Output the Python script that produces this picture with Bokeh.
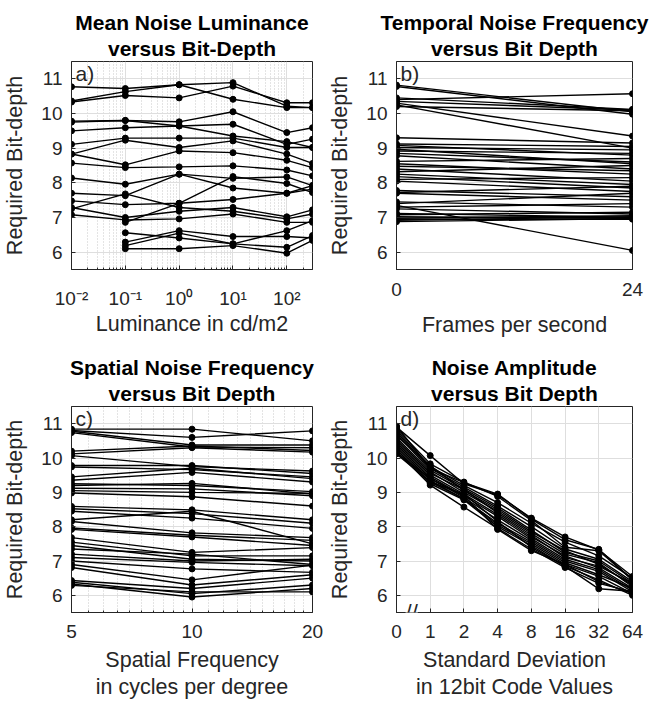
from bokeh.plotting import figure
from bokeh.models import Range1d, FixedTicker, Title, Label
from bokeh.layouts import row, column
from bokeh.embed import file_html
from bokeh.resources import INLINE

NaN = float("nan")

# ---------------- data ----------------
y_ticks = [6, 7, 8, 9, 10, 11]

# a) luminance (cd/m2) vs required bit depth
lum_x = [0.01, 0.1, 1, 10, 100, 300]
lum_ticks = [0.01, 0.1, 1, 10, 100]
lum_tick_labels = ["10⁻²", "10⁻¹", "10⁰", "10¹", "10²"]
lum_bits = [
    [10.77, 10.72, 10.83, 10.89, 10.21, 10.17],
    [10.36, 10.63, 10.83, 10.41, 10.17, 10.17],
    [10.33, 10.52, 10.45, 10.79, 10.31, 10.31],
    [9.78, 9.80, 9.76, 10.05, 9.45, 9.59],
    [9.75, 9.80, 9.64, 9.69, 9.11, 9.26],
    [9.50, 9.59, 9.64, 9.35, 9.19, 9.02],
    [9.11, 9.29, 9.29, 9.29, 9.02, 9.02],
    [8.83, 9.23, 9.02, 9.21, 8.83, 8.56],
    [8.83, 8.52, 8.92, 8.87, 8.65, 8.44],
    [8.57, 8.44, 8.46, 8.49, 8.37, 8.20],
    [8.14, 7.96, 8.25, 8.13, 8.17, 7.92],
    [7.70, 7.63, 8.25, 7.85, 7.70, 7.82],
    [7.48, 7.37, 7.41, 7.52, 7.70, 7.92],
    [7.29, 7.00, 7.18, 7.29, 7.02, 7.22],
    [7.25, 7.68, 7.29, 7.18, 6.96, 7.10],
    [7.08, 6.93, 6.96, 7.10, 6.86, 6.86],
    [NaN, 6.86, 7.41, 8.18, 7.98, 7.72],
    [NaN, 6.56, 6.41, 6.24, 6.62, 6.91],
    [NaN, 6.29, 6.62, 6.45, 6.45, 6.41],
    [NaN, 6.19, 6.55, 6.24, 6.14, 6.48],
    [NaN, 6.10, 6.10, 6.19, 5.97, 6.34],
]

# b) temporal frequency (fps) vs required bit depth
fps_x = [0, 24]
fps_ticks = [0, 24]
fps_bits = [
    [10.82, 10.05], [10.78, 9.98], [10.45, 10.12], [10.40, 10.57], [10.35, 10.10],
    [10.30, 9.35], [10.25, 9.00], [10.20, 10.08], [9.30, 9.15], [9.12, 9.05],
    [9.08, 8.80], [9.02, 8.95], [8.97, 8.55], [8.92, 8.85], [8.85, 8.60],
    [8.78, 8.40], [8.62, 8.70], [8.55, 8.25], [8.48, 8.35], [8.40, 8.05],
    [8.32, 8.50], [8.25, 7.95], [8.18, 7.85], [8.10, 8.15], [8.05, 7.75],
    [7.78, 7.60], [7.72, 7.90], [7.70, 7.50], [7.45, 7.30], [7.40, 7.70],
    [7.35, 6.05], [7.30, 7.40], [7.25, 7.10], [7.12, 7.00], [7.08, 7.15],
    [7.02, 6.98], [6.98, 7.05], [6.95, 6.95], [6.92, 7.02], [6.88, 6.97],
]

# c) spatial frequency (cpd) vs required bit depth
sf_x = [5, 10, 20]
sf_ticks = [5, 10, 20]
sf_minor = [5.5, 6, 6.5, 7, 7.5, 8, 8.5, 9, 9.5, 11, 12, 13, 14, 15, 16, 17, 18, 19]
sf_bits = [
    [10.84, 10.84, 10.50], [10.80, 10.60, 10.79], [10.78, 10.38, 10.38],
    [10.74, 10.32, 10.30], [10.20, 10.35, 10.22], [10.12, 10.30, 10.17],
    [10.07, 9.75, 9.62], [9.78, 9.78, 9.55], [9.74, 9.66, 9.45],
    [9.45, 9.70, 9.40], [9.35, 9.58, 9.30], [9.25, 9.20, 9.02],
    [9.20, 9.26, 8.95], [9.12, 9.10, 8.90], [9.05, 9.00, 8.97],
    [8.98, 8.87, 8.60], [8.59, 8.49, 8.20], [8.52, 8.38, 8.10],
    [8.45, 8.25, 7.95], [8.20, 8.45, 7.50], [8.15, 7.82, 7.68],
    [7.96, 7.75, 7.60], [7.92, 7.70, 7.45], [7.68, 7.25, 7.39],
    [7.55, 7.15, 7.15], [7.45, 7.05, 7.00], [7.35, 7.20, 6.90],
    [7.20, 7.00, 7.05], [7.10, 6.96, 6.86], [7.00, 6.77, 6.67],
    [6.90, 6.45, 6.88], [6.81, 6.30, 6.60], [6.43, 6.20, 6.50],
    [6.38, 6.05, 6.30], [6.33, 5.95, 6.20], [6.29, 6.10, 6.10],
]

# d) noise amplitude (std dev in 12bit code values) vs required bit depth
sd_labels = ["0", "1", "2", "4", "8", "16", "32", "64"]
sd_bits = [
    [10.90, 10.07, 9.25, 8.92, 8.25, 7.70, 7.32, 6.55],
    [10.85, 9.83, 9.30, 8.88, 8.18, 7.40, 7.30, 6.45],
    [10.80, 9.75, 9.20, 8.70, 8.10, 7.55, 7.15, 6.50],
    [10.75, 9.70, 9.15, 8.60, 8.00, 7.35, 7.05, 6.40],
    [10.70, 9.65, 9.10, 8.55, 7.90, 7.25, 7.00, 6.35],
    [10.65, 9.78, 9.05, 8.50, 7.85, 7.30, 6.90, 6.30],
    [10.60, 9.60, 9.00, 8.45, 7.80, 7.20, 6.95, 6.25],
    [10.55, 9.55, 9.08, 8.40, 7.75, 7.10, 6.85, 6.35],
    [10.50, 9.50, 8.95, 8.35, 7.70, 7.15, 6.80, 6.20],
    [10.45, 9.45, 8.90, 8.30, 7.65, 7.05, 6.75, 6.15],
    [10.40, 9.40, 8.85, 8.20, 7.60, 7.00, 6.70, 6.10],
    [10.35, 9.35, 8.80, 8.10, 7.55, 6.95, 6.60, 6.20],
    [10.30, 9.30, 8.82, 8.05, 7.50, 6.90, 6.55, 6.05],
    [10.25, 9.25, 8.78, 8.00, 7.45, 6.85, 6.45, 6.00],
    [10.20, 9.21, 8.57, 7.95, 7.35, 6.81, 6.35, 6.10],
    [10.15, 9.40, 8.90, 7.92, 7.30, 6.90, 6.40, 6.05],
    [10.12, 9.30, 8.95, 8.15, 7.40, 6.85, 6.19, 6.12],
    [10.93, 9.70, 9.28, 8.95, 8.22, 7.62, 7.34, 6.45],
]

Y_MIN, Y_MAX = 5.5, 11.5

# ---------------- styling ----------------
FONT = "Liberation Sans"
TXT = "#262626"
GRID = "#dedede"


def make_fig(width, height, bl, br, bt, bb, x_range, x_axis_type, title1, title2):
    p = figure(width=width, height=height, x_range=x_range,
               y_range=Range1d(Y_MIN, Y_MAX), x_axis_type=x_axis_type,
               output_backend="svg", toolbar_location=None,
               min_border_left=bl, min_border_right=br,
               min_border_top=bt, min_border_bottom=bb)
    # outer title line
    p.title.text = title1
    p.title.align = "center"
    p.title.text_font = FONT
    p.title.text_font_size = "21px"
    p.title.text_font_style = "bold"
    p.title.text_color = "black"
    p.title.standoff = 0
    # inner title line (closest to the frame)
    p.add_layout(Title(text=title2, align="center", text_font=FONT,
                       text_font_size="21px", text_font_style="bold",
                       text_color="black", standoff=3), "above")
    p.outline_line_color = TXT
    p.outline_line_alpha = 1
    p.background_fill_color = "white"
    p.border_fill_color = "white"
    for ax in (p.xaxis[0], p.yaxis[0]):
        ax.axis_line_color = TXT
        ax.major_tick_line_color = TXT
        ax.minor_tick_line_color = TXT
        ax.major_tick_in = 4
        ax.major_tick_out = 0
        ax.minor_tick_in = 2
        ax.minor_tick_out = 0
        ax.major_label_text_font = FONT
        ax.major_label_text_font_size = "19px"
        ax.major_label_text_color = TXT
        ax.axis_label_text_font = FONT
        ax.axis_label_text_font_size = "21.5px"
        ax.axis_label_text_font_style = "normal"
        ax.axis_label_text_color = TXT
        ax.axis_label_text_line_height = 1.15
    p.yaxis.ticker = FixedTicker(ticks=y_ticks)
    p.yaxis.minor_tick_line_color = None
    p.yaxis.axis_label = "Required Bit-depth"
    p.yaxis.major_label_standoff = 9
    p.yaxis.axis_label_standoff = 11
    p.ygrid.grid_line_color = GRID
    p.ygrid.grid_line_width = 1
    return p


def panel_label(p, x, text):
    p.add_layout(Label(x=x, y=Y_MAX, text=text, x_offset=4, y_offset=0,
                       text_baseline="top", text_font=FONT,
                       text_font_size="21px", text_color=TXT))


def draw(p, xs, ys):
    p.line(xs, ys, line_color="black", line_width=1.4)
    p.scatter(xs, ys, size=6, color="black")


# a)
pa = make_fig(325, 348, 68, 13, 61, 79, Range1d(lum_x[0], lum_x[-1]), "log",
              "Mean Noise Luminance", "versus Bit-Depth")
lum_minor = [m * d for d in (0.01, 0.1, 1, 10, 100) for m in range(2, 10) if m * d <= lum_x[-1]]
tk = FixedTicker(ticks=lum_ticks, minor_ticks=lum_minor)
pa.xaxis.ticker = tk
pa.xgrid.ticker = tk
pa.xaxis.major_label_overrides = dict(zip(lum_ticks, lum_tick_labels))
pa.xaxis.axis_label = "Luminance in cd/m2"
pa.xaxis.major_label_standoff = 18
pa.xaxis.axis_label_standoff = 0
pa.xgrid.grid_line_color = GRID
pa.xgrid.minor_grid_line_color = "#c8c8c8"
pa.xgrid.minor_grid_line_dash = "1 2"
for ys in lum_bits:
    draw(pa, lum_x, ys)
panel_label(pa, lum_x[0], "a)")

# b)
pb = make_fig(328, 348, 64, 21, 61, 79, Range1d(fps_x[0], fps_x[-1]), "linear",
              "Temporal Noise Frequency", "versus Bit Depth")
pb.xaxis.ticker = FixedTicker(ticks=fps_ticks)
pb.xgrid.grid_line_color = None
pb.xaxis.axis_label = "Frames per second"
pb.xaxis.major_label_standoff = 13
pb.xaxis.axis_label_standoff = 14
for ys in fps_bits:
    draw(pb, fps_x, ys)
panel_label(pb, fps_x[0], "b)")

# c)
pc = make_fig(325, 354, 68, 13, 58, 88, Range1d(sf_x[0], sf_x[-1]), "log",
              "Spatial Noise Frequency", "versus Bit Depth")
tk2 = FixedTicker(ticks=sf_ticks, minor_ticks=sf_minor)
pc.xaxis.ticker = tk2
pc.xgrid.ticker = tk2
pc.xaxis.major_label_overrides = {t: str(t) for t in sf_ticks}
pc.xaxis.axis_label = "Spatial Frequency\nin cycles per degree"
pc.xaxis.major_label_standoff = 12
pc.xaxis.axis_label_standoff = 7
pc.xgrid.grid_line_color = GRID
pc.xgrid.minor_grid_line_color = "#c8c8c8"
pc.xgrid.minor_grid_line_dash = "1 2"
for ys in sf_bits:
    draw(pc, sf_x, ys)
panel_label(pc, sf_x[0], "c)")

# d)
sd_pos = list(range(len(sd_labels)))
pd_ = make_fig(328, 354, 64, 21, 58, 88, Range1d(sd_pos[0], sd_pos[-1]), "linear",
               "Noise Amplitude", "versus Bit Depth")
pd_.xaxis.ticker = FixedTicker(ticks=sd_pos)
pd_.xaxis.major_label_overrides = dict(zip(sd_pos, sd_labels))
pd_.xaxis.major_label_standoff = 12
pd_.xaxis.axis_label_standoff = 7
pd_.xgrid.grid_line_color = GRID
pd_.xaxis.axis_label = "Standard Deviation\nin 12bit Code Values"
for ys in sd_bits:
    draw(pd_, sd_pos, ys)
panel_label(pd_, sd_pos[0], "d)")
pd_.add_layout(Label(x=(sd_pos[0] + sd_pos[1]) * 0.45, y=Y_MIN, text="//",
                     text_align="center", text_baseline="middle",
                     text_font=FONT, text_font_size="22px", text_color=TXT,
                     background_fill_color="white"))

layout = column(row(pa, pb), row(pc, pd_))
open("out.html", "w").write(file_html(layout, INLINE))
